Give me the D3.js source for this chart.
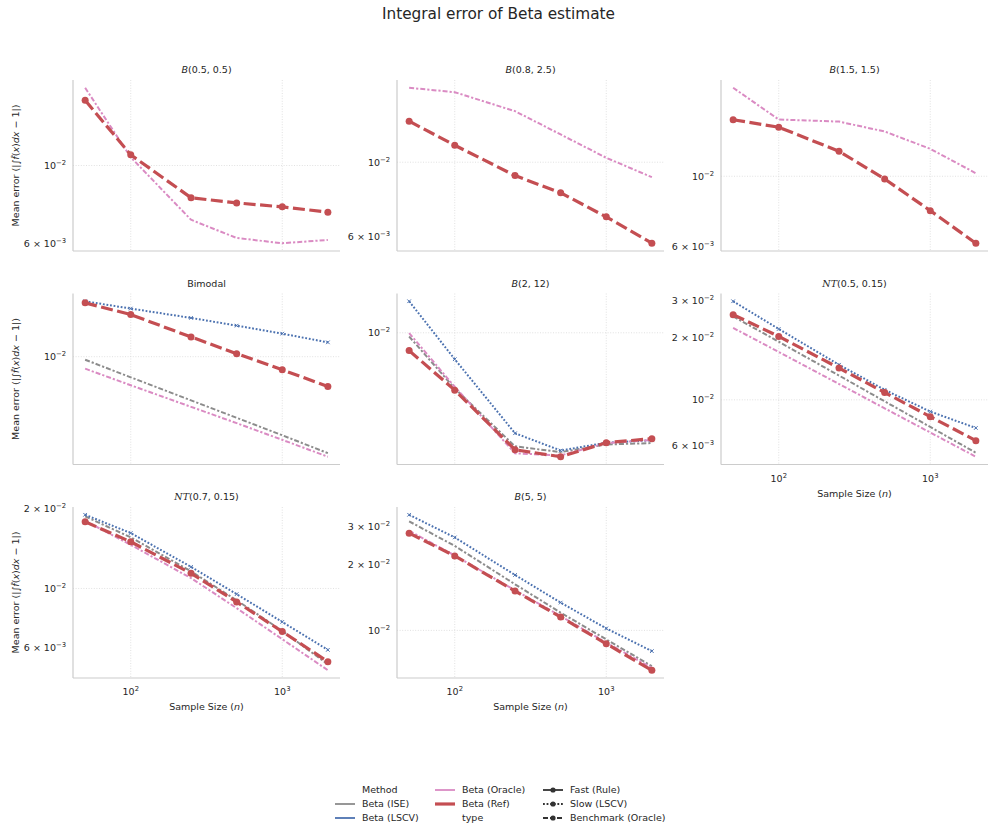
<!DOCTYPE html>
<html>
<head>
<meta charset="utf-8">
<script src="https://cdn.jsdelivr.net/npm/d3@7"></script>
<style>
	body { margin: 0; background: #fff; }
	text { font-family: "DejaVu Sans", sans-serif; fill: #262626; }
</style>
</head>
<body>
<div id="chart"></div>
<script>
var sampleSizes = [50, 100, 250, 500, 1000, 2000];

var panelNames = ["B(0.5, 0.5)", "B(0.8, 2.5)", "B(1.5, 1.5)", "Bimodal", "B(2, 12)", "NT(0.5, 0.15)", "NT(0.7, 0.15)", "B(5, 5)"];

// mean error per panel, one array per method (null = not run)
var betaIse = [null, null, null,
	[0.00953, 0.00721, 0.00501, 0.0038, 0.00288, 0.00217],
	[0.00945, 0.00428, 0.00177, 0.00162, 0.00182, 0.00186],
	[0.02524, 0.01906, 0.01309, 0.00984, 0.0074, 0.00556],
	[0.01869, 0.01558, 0.0116, 0.00903, 0.00692, 0.00518],
	[0.0317, 0.02446, 0.01629, 0.01207, 0.00909, 0.00685]];

var betaLscv = [null, null, null,
	[0.02406, 0.02143, 0.01849, 0.01636, 0.01441, 0.01255],
	[0.01617, 0.00668, 0.00216, 0.00166, 0.00187, 0.00194],
	[0.02985, 0.02195, 0.01476, 0.01118, 0.00878, 0.00732],
	[0.01895, 0.01617, 0.01206, 0.00952, 0.00748, 0.00587],
	[0.034, 0.02675, 0.01798, 0.01342, 0.01021, 0.00803]];

var betaOracle = [
	[0.01667, 0.01056, 0.0070, 0.00621, 0.0060, 0.00613],
	[0.01671, 0.01621, 0.01422, 0.01211, 0.01031, 0.00902],
	[0.01901, 0.0151, 0.01487, 0.01384, 0.0122, 0.01022],
	[0.00827, 0.00636, 0.00452, 0.00349, 0.00268, 0.00205],
	[0.00995, 0.00439, 0.00159, 0.00154, 0.00186, 0.00195],
	[0.0222, 0.01702, 0.01192, 0.0091, 0.00696, 0.00532],
	[0.01799, 0.0146, 0.01094, 0.00843, 0.00644, 0.00492],
	[0.02869, 0.0221, 0.01529, 0.01164, 0.00878, 0.00673]];

var betaRef = [
	[0.01535, 0.01073, 0.00809, 0.00782, 0.00762, 0.00736],
	[0.01327, 0.01124, 0.00912, 0.0081, 0.00686, 0.00572],
	[0.01507, 0.01428, 0.01199, 0.00981, 0.00779, 0.00615],
	[0.02346, 0.01949, 0.01367, 0.01049, 0.00813, 0.00624],
	[0.00762, 0.00417, 0.00168, 0.00151, 0.00187, 0.00199],
	[0.02574, 0.02022, 0.01423, 0.01085, 0.0083, 0.00636],
	[0.01783, 0.01499, 0.0114, 0.0089, 0.00688, 0.0053],
	[0.02799, 0.022, 0.01517, 0.01152, 0.00868, 0.00656]];

var yTickValues = [[0.006, 0.01], [0.006, 0.01], [0.006, 0.01], [0.01], [0.01], [0.006, 0.01, 0.02, 0.03], [0.006, 0.01, 0.02], [0.01, 0.02, 0.03]];
var xTickValues = [100, 1000];

var width = 997, height = 834;
var colX = [73, 397, 721], rowY = [80, 293.5, 507];
var panelW = 267, panelH = 171;
var fontSize = 9.5;

var methods = [
	{name: "Beta (ISE)", data: betaIse, color: "#8c8c8c", width: 2, dash: "5,2,2.2,2", marker: null},
	{name: "Beta (LSCV)", data: betaLscv, color: "#4c72b0", width: 2, dash: "1.8,1.8", marker: "x"},
	{name: "Beta (Oracle)", data: betaOracle, color: "#da8bc3", width: 2, dash: "5,2,2.2,2", marker: null},
	{name: "Beta (Ref)", data: betaRef, color: "#c44e52", width: 3.2, dash: "12,4.5", marker: "o"}
];

var svg = d3.select("#chart").append("svg")
	.attr("width", width)
	.attr("height", height);

svg.append("text")
	.attr("x", width / 2)
	.attr("y", 14)
	.attr("dy", "0.35em")
	.attr("text-anchor", "middle")
	.style("font-size", "15.3px")
	.text("Integral error of Beta estimate");

// log ticks drawn like "6 × 10^-3"
function logLabel(sel, v) {
	var e = Math.floor(Math.log10(v) + 1e-9);
	var c = Math.round(v / Math.pow(10, e));
	sel.text(c == 1 ? "10" : c + " \u00d7 10");
	sel.append("tspan")
		.attr("dy", -4)
		.style("font-size", "6.8px")
		.text(e < 0 ? "\u2212" + (-e) : e);
}

function logExtent(vals) {
	var lo = Math.log10(d3.min(vals)), hi = Math.log10(d3.max(vals));
	var pad = (hi - lo) * 0.05;
	return [Math.pow(10, lo - pad), Math.pow(10, hi + pad)];
}

var x = d3.scaleLog()
	.domain(logExtent(sampleSizes))
	.range([0, panelW]);

panelNames.forEach(function(name, p) {
	var col = p % 3, row = Math.floor(p / 3);
	var g = svg.append("g")
		.attr("transform", "translate(" + colX[col] + "," + rowY[row] + ")");

	var allVals = [];
	methods.forEach(function(m) { if (m.data[p]) allVals = allVals.concat(m.data[p]); });
	var y = d3.scaleLog()
		.domain(logExtent(allVals))
		.range([panelH, 0]);

	// grid
	g.selectAll(".gx").data(xTickValues).enter().append("line")
		.attr("x1", function(d) { return x(d); })
		.attr("x2", function(d) { return x(d); })
		.attr("y1", 0).attr("y2", panelH)
		.attr("stroke", "#d9d9d9").attr("stroke-width", 0.8).attr("stroke-dasharray", "1,1.6");
	g.selectAll(".gy").data(yTickValues[p].filter(function(d) { return Math.abs(Math.log10(d) % 1) < 1e-9; }))
		.enter().append("line")
		.attr("x1", 0).attr("x2", panelW)
		.attr("y1", function(d) { return y(d); })
		.attr("y2", function(d) { return y(d); })
		.attr("stroke", "#d9d9d9").attr("stroke-width", 0.8).attr("stroke-dasharray", "1,1.6");

	// spines
	g.append("line").attr("x1", 0).attr("x2", 0).attr("y1", 0).attr("y2", panelH)
		.attr("stroke", "#cccccc").attr("stroke-width", 1.2);
	g.append("line").attr("x1", 0).attr("x2", panelW).attr("y1", panelH).attr("y2", panelH)
		.attr("stroke", "#cccccc").attr("stroke-width", 1.2);

	// y tick labels
	yTickValues[p].forEach(function(v) {
		var t = g.append("text")
			.attr("x", -7)
			.attr("y", y(v) + 3.5)
			.attr("text-anchor", "end")
			.style("font-size", fontSize + "px");
		logLabel(t, v);
	});

	// x tick labels only on the bottom panel of each column
	if (p + 3 >= panelNames.length) {
		xTickValues.forEach(function(v) {
			var t = g.append("text")
				.attr("x", x(v))
				.attr("y", panelH + 17)
				.attr("text-anchor", "middle")
				.style("font-size", fontSize + "px");
			logLabel(t, v);
		});
		var xl = g.append("text")
			.attr("x", panelW / 2)
			.attr("y", panelH + 32)
			.attr("text-anchor", "middle")
			.style("font-size", fontSize + "px")
			.text("Sample Size (");
		xl.append("tspan").style("font-style", "italic").text("n");
		xl.append("tspan").text(")");
	}

	if (col == 0) {
		var yl = g.append("text")
			.attr("transform", "translate(" + (16 - colX[0]) + "," + (panelH / 2) + ") rotate(-90)")
			.attr("text-anchor", "middle")
			.attr("dy", "0.35em")
			.style("font-size", fontSize + "px")
			.text("Mean error (|\u222b");
		yl.append("tspan").style("font-style", "italic").text("f\u0302");
		yl.append("tspan").text("(");
		yl.append("tspan").style("font-style", "italic").text("x");
		yl.append("tspan").text(")");
		yl.append("tspan").style("font-style", "italic").text("dx");
		yl.append("tspan").text(" \u2212 1|)");
	}

	// panel title
	var tt = g.append("text")
		.attr("x", panelW / 2)
		.attr("y", -10)
		.attr("dy", "0.35em")
		.attr("text-anchor", "middle")
		.style("font-size", fontSize + "px");
	if (name.indexOf("B(") == 0) {
		tt.append("tspan").style("font-style", "italic").text("B");
		tt.append("tspan").text(name.slice(1));
	} else if (name.indexOf("NT") == 0) {
		tt.append("tspan").style("font-family", "'DejaVu Serif', serif").style("font-style", "italic").text("N");
		tt.append("tspan").style("font-family", "'DejaVu Serif', serif").style("font-style", "italic").text("T");
		tt.append("tspan").text(name.slice(2));
	} else {
		tt.text(name);
	}

	var line = d3.line()
		.x(function(d, i) { return x(sampleSizes[i]); })
		.y(function(d) { return y(d); });

	methods.forEach(function(m) {
		var vals = m.data[p];
		if (!vals) return;
		g.append("path")
			.datum(vals)
			.attr("d", line)
			.attr("fill", "none")
			.attr("stroke", m.color)
			.attr("stroke-width", m.width)
			.attr("stroke-dasharray", m.dash);
		if (m.marker == "o") {
			g.selectAll(null).data(vals).enter().append("circle")
				.attr("cx", function(d, i) { return x(sampleSizes[i]); })
				.attr("cy", function(d) { return y(d); })
				.attr("r", 3.5)
				.attr("fill", m.color);
		} else if (m.marker == "x") {
			g.selectAll(null).data(vals).enter().append("path")
				.attr("transform", function(d, i) { return "translate(" + x(sampleSizes[i]) + "," + y(d) + ")"; })
				.attr("d", "M-1.8,-1.8L1.8,1.8M-1.8,1.8L1.8,-1.8")
				.attr("stroke", m.color)
				.attr("stroke-width", 1);
		}
	});
});

// legend
var legend = svg.append("g").style("font-size", fontSize + "px");
var legendItems = [
	{label: "Method", col: 0, row: 0},
	{label: "Beta (ISE)", col: 0, row: 1, color: "#8c8c8c", w: 1.8},
	{label: "Beta (LSCV)", col: 0, row: 2, color: "#4c72b0", w: 1.8},
	{label: "Beta (Oracle)", col: 1, row: 0, color: "#da8bc3", w: 1.8},
	{label: "Beta (Ref)", col: 1, row: 1, color: "#c44e52", w: 3.2},
	{label: "type", col: 1, row: 2},
	{label: "Fast (Rule)", col: 2, row: 0, color: "#333", w: 1.8, dash: null, dot: true},
	{label: "Slow (LSCV)", col: 2, row: 1, color: "#333", w: 1.8, dash: "1.8,1.8", dot: true},
	{label: "Benchmark (Oracle)", col: 2, row: 2, color: "#333", w: 1.8, dash: "5,2", dot: true}
];
var legendCols = [335, 435, 543], legendRows = [790, 804, 818];
legendItems.forEach(function(d) {
	var lx = legendCols[d.col], ly = legendRows[d.row];
	if (d.color) {
		legend.append("line")
			.attr("x1", lx).attr("x2", lx + 20)
			.attr("y1", ly).attr("y2", ly)
			.attr("stroke", d.color)
			.attr("stroke-width", d.w)
			.attr("stroke-dasharray", d.dash || null);
		if (d.dot) {
			legend.append("circle").attr("cx", lx + 10).attr("cy", ly).attr("r", 2.6).attr("fill", d.color);
		}
	}
	legend.append("text")
		.attr("x", lx + 27)
		.attr("y", ly)
		.attr("dy", "0.35em")
		.text(d.label);
});
</script>
</body>
</html>
